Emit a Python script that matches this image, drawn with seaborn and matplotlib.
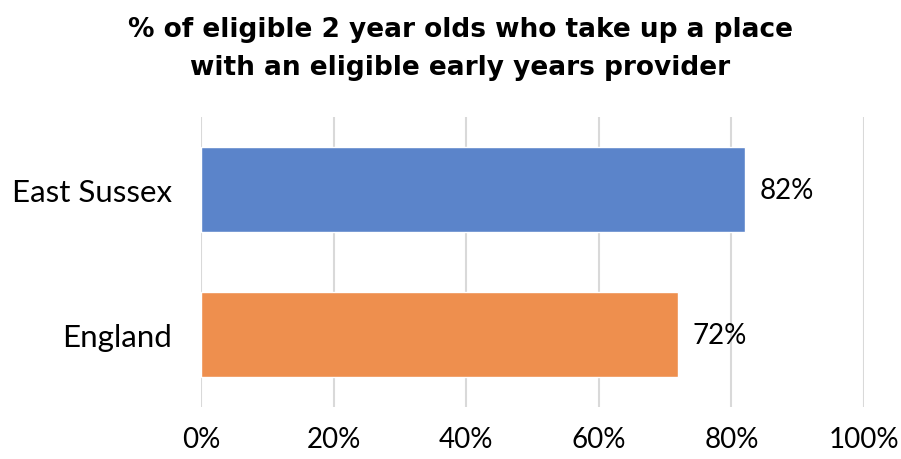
import matplotlib
matplotlib.use("Agg")
import matplotlib.pyplot as plt
import seaborn as sns
import pandas as pd
from matplotlib.ticker import PercentFormatter

# Chart data
areas = ["East Sussex", "England"]
takeup_pct = [82, 72]
bar_colors = ["#5B84CA", "#EE8F4E"]
x_ticks = [0, 20, 40, 60, 80, 100]

df = pd.DataFrame({"area": areas, "pct": takeup_pct})

sns.set_style("white")
plt.rcParams["font.family"] = ["Lato", "DejaVu Sans"]
plt.rcParams["text.color"] = "black"
plt.rcParams["xtick.color"] = "black"
plt.rcParams["ytick.color"] = "black"

fig = plt.figure(figsize=(9.01, 4.60), dpi=100)
ax = fig.add_axes([0.223, 0.113, 0.736, 0.630])

sns.barplot(data=df, x="pct", y="area", hue="area", palette=bar_colors,
            width=0.586, legend=False, ax=ax, saturation=1)

ax.set_xlim(0, 100)
ax.set_ylim(1.5, -0.5)
ax.set_xticks(x_ticks)
ax.xaxis.set_major_formatter(PercentFormatter(decimals=0))
ax.grid(axis="x", color="#D9D9D9", linewidth=1.5)
ax.set_axisbelow(True)
sns.despine(ax=ax, left=True, bottom=True, top=True, right=True)
ax.tick_params(axis="x", length=0, labelsize=20, pad=14)
ax.tick_params(axis="y", length=0, labelsize=22.5, pad=21)
ax.set_xlabel("")
ax.set_ylabel("")

for i, v in enumerate(takeup_pct):
    ax.text(v + 2.2, i, f"{v}%", va="center", ha="left", fontsize=20)

fig.text(0.511, 0.893, "% of eligible 2 year olds who take up a place\nwith an eligible early years provider",
         ha="center", va="center", fontsize=19, fontweight="bold",
         family=["DejaVu Sans"], linespacing=1.6)

fig.savefig("out.png", dpi=100)
